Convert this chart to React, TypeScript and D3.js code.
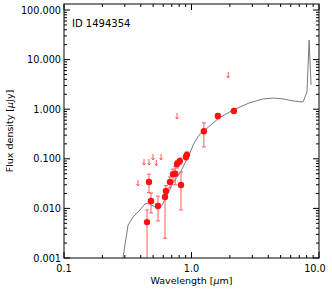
import React from 'react';
import * as d3 from 'd3';

// model SED (wavelength in micron, flux in microJy)
const modelWave = [0.283, 0.29, 0.318, 0.348, 0.394, 0.432, 0.456, 0.518, 0.546, 0.588, 0.643, 0.716, 0.813, 0.973, 1.03, 1.145, 1.64, 2.12, 2.82, 3.64, 4.36, 5.22, 6.26, 7.5, 8.05, 8.36, 8.66];
const modelFlux = [0.0007, 0.001, 0.0046, 0.0067, 0.0093, 0.0123, 0.0128, 0.0107, 0.0097, 0.0117, 0.0186, 0.0325, 0.0518, 0.131, 0.19, 0.3, 0.665, 0.96, 1.33, 1.61, 1.68, 1.61, 1.47, 1.4, 2.22, 24.8, 3.07];

// detections with error bars
const detWave = [0.448, 0.464, 0.481, 0.546, 0.62, 0.63, 0.678, 0.716, 0.745, 0.77, 0.81, 0.827, 0.905, 0.92, 1.25, 1.61, 2.15];
const detFlux = [0.0053, 0.034, 0.0141, 0.0112, 0.017, 0.0224, 0.034, 0.049, 0.05, 0.0785, 0.09, 0.0296, 0.109, 0.12, 0.36, 0.73, 0.92];
const detLow = [0.0005, 0.021, 0.0081, 0.0056, 0.0025, 0.016, 0.026, 0.036, 0.03, 0.065, 0.077, 0.0093, 0.095, 0.105, 0.173, 0.64, 0.83];
const detHigh = [0.0093, 0.049, 0.0204, 0.0177, 0.0235, 0.029, 0.043, 0.062, 0.07, 0.092, 0.103, 0.054, 0.125, 0.138, 0.53, 0.82, 1.02];

// upper limits
const limWave = [0.38, 0.424, 0.464, 0.499, 0.53, 0.577, 0.77, 1.94];
const limFlux = [0.0325, 0.086, 0.086, 0.109, 0.083, 0.109, 0.73, 4.9];

const yTickLabels = ['0.001', '0.010', '0.100', '1.000', '10.000', '100.000'];
const xTickLabels = ['0.1', '1.0', '10.0'];

const W = 332;
const H = 290;
const left = 64, right = 319, top = 4, bottom = 258;
const FONT = 'DejaVu Sans, sans-serif';

export default function App() {
  const x = d3.scaleLog().domain([0.1, 10]).range([left, right]);
  const y = d3.scaleLog().domain([0.001, 100 * Math.pow(10, 6 / 49.6)]).range([bottom, top]);

  const xMajor = [0.1, 1, 10];
  const xMinor: number[] = [];
  [0.1, 1].forEach((d) => { for (let k = 2; k < 10; k++) xMinor.push(d * k); });
  const yMajor = [0.001, 0.01, 0.1, 1, 10, 100];
  const yMinor: number[] = [];
  yMajor.forEach((d) => { for (let k = 2; k < 10; k++) if (d * k <= y.domain()[1]) yMinor.push(d * k); });

  const line = d3.line<number>()
    .x((_, i) => x(modelWave[i]))
    .y((d) => y(d));

  const errColor = '#ff5a5a';

  return (
    <svg width={W} height={H} style={{ position: 'absolute', left: 0, top: 0, background: '#fff' }} fontFamily={FONT}>
      <defs>
        <clipPath id="plot">
          <rect x={left} y={top} width={right - left} height={bottom - top} />
        </clipPath>
      </defs>

      <g clipPath="url(#plot)">
        <path d={line(modelFlux) || ''} fill="none" stroke="#7a7a7a" strokeWidth={1} />

        {detWave.map((w, i) => (
          <g key={'e' + i} stroke={errColor} strokeWidth={1}>
            <line x1={x(w)} x2={x(w)} y1={y(detHigh[i])} y2={y(detLow[i])} />
            <line x1={x(w) - 2} x2={x(w) + 2} y1={y(detHigh[i])} y2={y(detHigh[i])} />
            <line x1={x(w) - 2} x2={x(w) + 2} y1={y(detLow[i])} y2={y(detLow[i])} />
          </g>
        ))}
        {detWave.map((w, i) => (
          <circle key={'p' + i} cx={x(w)} cy={y(detFlux[i])} r={3.2} fill="#ff1010" />
        ))}

        {limWave.map((w, i) => {
          const cx = x(w), cy = y(limFlux[i]);
          return (
            <g key={'l' + i} stroke={errColor} strokeWidth={1} fill="none">
              <line x1={cx} x2={cx} y1={cy - 3} y2={cy + 3} />
              <polyline points={`${cx - 1.5},${cy + 1} ${cx},${cy + 3} ${cx + 1.5},${cy + 1}`} />
            </g>
          );
        })}
      </g>

      {/* frame */}
      <rect x={left} y={top} width={right - left} height={bottom - top} fill="none" stroke="#000" strokeWidth={1} />

      {/* ticks on all four sides */}
      <g stroke="#000" strokeWidth={1}>
        {xMajor.map((d) => (
          <g key={'xM' + d}>
            <line x1={x(d)} x2={x(d)} y1={bottom} y2={bottom - 6} />
            <line x1={x(d)} x2={x(d)} y1={top} y2={top + 6} />
          </g>
        ))}
        {xMinor.map((d) => (
          <g key={'xm' + d}>
            <line x1={x(d)} x2={x(d)} y1={bottom} y2={bottom - 3} />
            <line x1={x(d)} x2={x(d)} y1={top} y2={top + 3} />
          </g>
        ))}
        {yMajor.map((d) => (
          <g key={'yM' + d}>
            <line x1={left} x2={left + 6} y1={y(d)} y2={y(d)} />
            <line x1={right} x2={right - 6} y1={y(d)} y2={y(d)} />
          </g>
        ))}
        {yMinor.map((d) => (
          <g key={'ym' + d}>
            <line x1={left} x2={left + 3} y1={y(d)} y2={y(d)} />
            <line x1={right} x2={right - 3} y1={y(d)} y2={y(d)} />
          </g>
        ))}
      </g>

      {/* tick labels */}
      <g fontSize={9.7} fill="#000">
        {yMajor.map((d, i) => (
          <text key={'yl' + d} x={left - 3} y={y(d) + 3.5} textAnchor="end">{yTickLabels[i]}</text>
        ))}
        {xMajor.map((d, i) => (
          <text key={'xl' + d} x={x(d) + (i === 2 ? -4 : 0)} y={272} textAnchor="middle">{xTickLabels[i]}</text>
        ))}
      </g>

      <text x={(left + right) / 2} y={284} textAnchor="middle" fontSize={9.5}>
        Wavelength [<tspan fontStyle="italic">μ</tspan>m]
      </text>
      <text transform={`translate(13, ${(top + bottom) / 2}) rotate(-90)`} textAnchor="middle" fontSize={9.5}>
        Flux density [<tspan fontStyle="italic">μ</tspan>Jy]
      </text>
      <text x={72} y={27} fontSize={10}>ID 1494354</text>
    </svg>
  );
}
